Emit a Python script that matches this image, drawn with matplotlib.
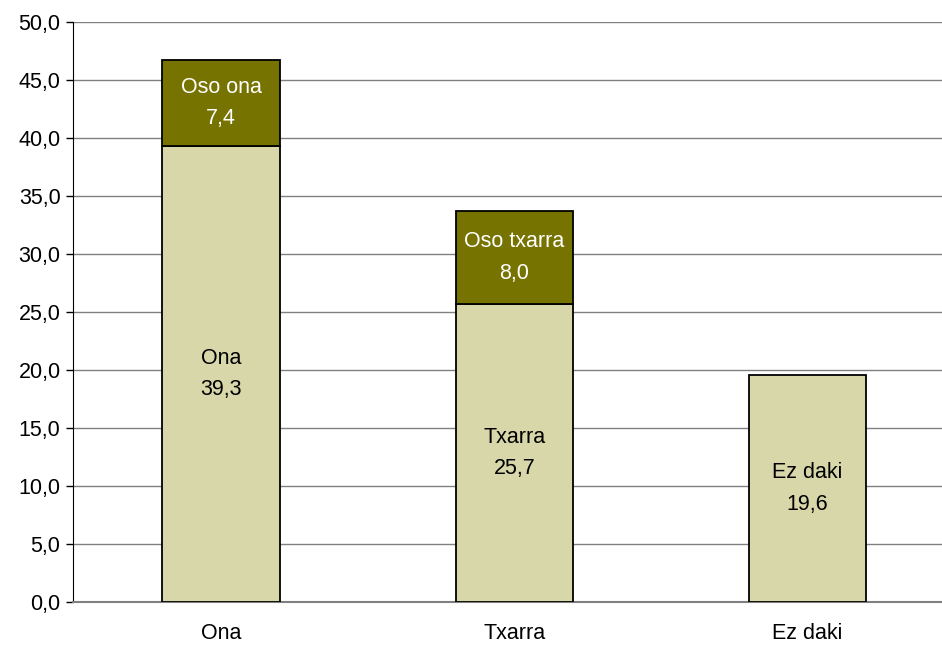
import matplotlib
matplotlib.use('Agg')
import matplotlib.pyplot as plt
from matplotlib.ticker import FuncFormatter

categories = ['Ona', 'Txarra', 'Ez daki']
base_values = [39.3, 25.7, 19.6]
base_labels = ['Ona', 'Txarra', 'Ez daki']
top_values = [7.4, 8.0, 0.0]
top_labels = ['Oso ona', 'Oso txarra', '']

light = '#D7D7AA'
dark = '#777300'

plt.rcParams['font.family'] = ['Liberation Sans', 'DejaVu Sans']

fig = plt.figure(figsize=(9.42, 6.45), dpi=100)
ax = fig.add_axes([73 / 942, 43 / 645, 1 - 73 / 942, 580 / 645])

x = list(range(len(categories)))
w = 0.40
ax.bar(x, base_values, width=w, color=light, edgecolor='black', linewidth=1.3, zorder=3)
for i in x:
    if top_values[i] > 0:
        ax.bar(i, top_values[i], bottom=base_values[i], width=w, color=dark,
               edgecolor='black', linewidth=1.3, zorder=3)
        ax.text(i, base_values[i] + top_values[i] / 2, '%s\n%s' % (top_labels[i], ('%.1f' % top_values[i]).replace('.', ',')),
                ha='center', va='center', color='white', fontsize=15.5, linespacing=1.65, zorder=4)
    ax.text(i, base_values[i] / 2, '%s\n%s' % (base_labels[i], ('%.1f' % base_values[i]).replace('.', ',')),
            ha='center', va='center', color='black', fontsize=15.5, linespacing=1.65, zorder=4)

ax.set_ylim(0, 50)
ax.set_yticks([i * 5 for i in range(11)])
ax.yaxis.set_major_formatter(FuncFormatter(lambda v, p: ('%.1f' % v).replace('.', ',')))
ax.set_xlim(-0.505, 2.458)
ax.set_xticks(x)
ax.set_xticklabels(categories)
ax.tick_params(axis='x', length=0, pad=15, labelsize=15.5)
ax.tick_params(axis='y', length=5, width=1, labelsize=15.5, color='black', direction='out', pad=4)
ax.grid(axis='y', color='#808080', linewidth=1, zorder=0)
for s in ['top', 'right']:
    ax.spines[s].set_visible(False)
ax.spines['left'].set_color('black')
ax.spines['bottom'].set_color('#808080')
ax.spines['bottom'].set_linewidth(1.5)

fig.savefig('out.png', dpi=100)
